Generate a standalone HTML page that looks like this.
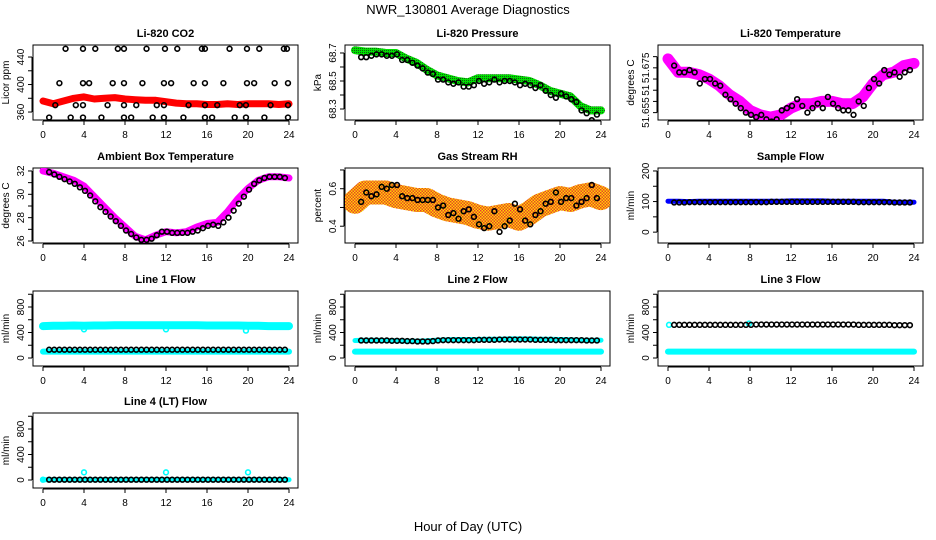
<!DOCTYPE html>
<html><head><meta charset="utf-8"><style>
body{margin:0;background:#fff;}
svg{display:block;font-family:"Liberation Sans",Arial,sans-serif;}
.ttl{font-size:11px;font-weight:bold;text-anchor:middle;}
.tk{font-size:10px;text-anchor:middle;}
</style></head><body>
<svg id="c" width="936" height="540" viewBox="0 0 936 540">
<defs>
<pattern id="chk" width="3" height="3" patternUnits="userSpaceOnUse"><rect width="3" height="3" fill="#ffd700"/><rect width="1.5" height="1.5" fill="#e8412a"/><rect x="1.5" y="1.5" width="1.5" height="1.5" fill="#e8412a"/></pattern>
<pattern id="grn" width="2" height="2" patternUnits="userSpaceOnUse"><rect width="2" height="2" fill="#00e000"/><rect width="1" height="1" fill="#106010"/></pattern>
</defs>
<text x="468" y="14" text-anchor="middle" font-size="13">NWR_130801  Average Diagnostics</text>
<text x="468" y="531" text-anchor="middle" font-size="13">Hour of Day (UTC)</text>
</svg>
<script>
const hours=[0,1,2,3,4,5,6,7,8,9,10,11,12,13,14,15,16,17,18,19,20,21,22,23,24];
const T=[0.6,1.1,1.6,2.1,2.6,3.1,3.6,4.1,4.6,5.1,5.6,6.1,6.6,7.1,7.6,8.1,8.6,9.1,9.6,10.1,10.6,11.1,11.6,12.1,12.6,13.1,13.6,14.1,14.6,15.1,15.6,16.1,16.6,17.1,17.6,18.1,18.6,19.1,19.6,20.1,20.6,21.1,21.6,22.1,22.6,23.1,23.6];
const xTicks=[0,4,8,12,16,20,24];
// CO2
const co2Band=[376,372,376,380,382,379,380,381,379,378,377,377,375,373,372,372,371,371,372,371,372,372,372,371,372];
const co2T=[2.2,3.9,5.1,7.3,7.9,10.1,11.9,13.1,15.5,15.8,18.2,19.9,21.1,23.5,23.8,1.6,3.9,4.5,6.8,7.9,9.7,11.8,12.5,14.7,15.8,17.6,19.9,20.6,22.6,23.9,1.2,3.2,3.9,6.3,7.9,9.1,11.1,11.8,14.2,15.8,17.0,19.2,19.8,22.2,23.9,0.6,2.7,3.9,5.7,7.9,8.6,10.7,11.8,13.7,15.8,16.5,18.7,19.8,21.6,23.9];
const co2V=[452,452,452,452,452,452,452,452,452,452,452,452,452,452,452,402,402,402,402,402,402,402,402,402,402,402,402,402,402,402,370,370,370,370,370,370,370,370,370,370,370,370,370,370,370,352,352,352,352,352,352,352,352,352,352,352,352,352,352,352];
// Pressure
const presBand=[68.72,68.71,68.71,68.70,68.70,68.66,68.63,68.58,68.54,68.52,68.50,68.49,68.52,68.52,68.52,68.52,68.51,68.50,68.47,68.43,68.41,68.39,68.32,68.29,68.29];
const presBlack=[68.67,68.67,68.68,68.69,68.69,68.68,68.68,68.69,68.65,68.65,68.63,68.61,68.59,68.56,68.55,68.51,68.51,68.49,68.48,68.49,68.46,68.46,68.47,68.50,68.48,68.49,68.51,68.49,68.50,68.50,68.49,68.47,68.48,68.47,68.45,68.47,68.43,68.40,68.38,68.41,68.39,68.37,68.35,68.29,68.27,68.22,68.26];
// Li-820 temperature
const tempBand=[51.679,51.673,51.673,51.672,51.670,51.667,51.663,51.660,51.656,51.654,51.653,51.654,51.657,51.659,51.659,51.660,51.660,51.659,51.659,51.662,51.668,51.672,51.673,51.676,51.677];
const tempBlack=[51.676,51.673,51.673,51.674,51.673,51.668,51.670,51.670,51.668,51.667,51.663,51.661,51.659,51.657,51.655,51.654,51.653,51.654,51.652,51.651,51.652,51.656,51.657,51.658,51.661,51.658,51.655,51.657,51.659,51.657,51.662,51.659,51.657,51.656,51.656,51.654,51.660,51.658,51.666,51.670,51.668,51.674,51.672,51.673,51.671,51.673,51.674];
// Ambient
const ambBand=[32,31.8,31.5,31.2,30.7,29.8,28.9,28.0,27.2,26.4,26.1,26.5,26.8,26.7,26.8,27.2,27.5,27.6,28.5,29.6,30.5,31.2,31.5,31.5,31.4];
const ambBlack=[31.9,31.7,31.5,31.3,31.1,30.9,30.6,30.3,29.9,29.4,28.9,28.5,28.1,27.7,27.3,26.9,26.6,26.3,26.1,26.1,26.2,26.5,26.8,26.8,26.7,26.7,26.7,26.7,26.8,26.9,27.1,27.3,27.4,27.3,27.6,28.0,28.6,29.2,29.8,30.4,30.9,31.2,31.4,31.5,31.5,31.5,31.4];
// RH
const rhBand=[0.53,0.58,0.58,0.58,0.56,0.55,0.54,0.54,0.51,0.49,0.48,0.47,0.45,0.44,0.45,0.46,0.44,0.47,0.51,0.53,0.55,0.54,0.56,0.57,0.55];
const rhBlack=[0.53,0.58,0.56,0.57,0.61,0.60,0.62,0.62,0.56,0.55,0.55,0.54,0.54,0.54,0.54,0.50,0.51,0.46,0.47,0.44,0.48,0.49,0.45,0.41,0.39,0.40,0.48,0.37,0.40,0.43,0.52,0.49,0.43,0.41,0.46,0.48,0.52,0.53,0.58,0.53,0.55,0.55,0.51,0.53,0.55,0.62,0.55];
// Sample flow
const sampBand=[101,101,100,101,101,101,101,101,101,101,101,101,102,102,102,102,101,101,101,101,101,101,98,98,98];
const sampBlack=[97,97,97,98,98,98,98,98,98,98,98,98,98,98,98,98,98,98,98,99,99,99,99,99,99,99,99,99,99,99,99,99,99,99,99,99,98,98,98,98,98,98,98,97,97,97,97];
// Line flows
const l1BandHi=[500,505,505,510,505,510,510,515,515,515,515,515,515,515,515,515,510,510,510,510,505,505,500,500,500];
const l1BandLo=[100,100,100,100,100,100,100,100,100,100,100,100,100,100,100,100,100,100,100,100,100,100,100,100,100];
const l1Black=[130,130,130,130,130,130,130,130,130,130,130,130,130,130,130,130,130,130,130,130,130,130,130,130,130,130,130,130,130,130,130,130,130,130,130,130,130,130,130,130,130,130,130,130,130,130,130];
const l2BandHi=[275,280,280,275,270,265,265,270,280,285,290,290,290,295,295,300,300,300,295,295,290,285,280,280,280];
const l2BandLo=[100,100,100,100,100,100,100,100,100,100,100,100,100,100,100,100,100,100,100,100,100,100,100,100,100];
const l2Black=[275,275,275,275,275,275,270,270,270,265,265,260,260,260,265,275,280,280,280,280,280,280,280,285,285,285,285,290,290,290,290,290,290,290,285,285,285,285,280,280,280,280,280,280,275,275,275];
const l3BandLo=[100,100,100,100,100,100,100,100,100,100,100,100,100,100,100,100,100,100,100,100,100,100,100,100,100];
const l3Black=[520,520,520,520,520,520,520,520,520,520,520,520,520,520,520,520,525,525,525,525,525,525,525,525,525,525,525,525,525,525,525,525,525,525,525,525,520,520,520,520,520,520,520,515,515,515,515];
const l3CyanT=[0.1,7.9];
const l3CyanV=[520,540];
const l4Band=[5,5,5,5,5,5,5,5,5,5,5,5,5,5,5,5,5,5,5,5,5,5,5,5,5];
const l4Black=[5,5,5,5,5,5,5,5,5,5,5,5,5,5,5,5,5,5,5,5,5,5,5,5,5,5,5,5,5,5,5,5,5,5,5,5,5,5,5,5,5,5,5,5,5,5,5];
const l4CyanT=[0,4,12,20];
const l4CyanV=[5,120,120,120];
const l1CyanT=[4,12,19.8];
const l1CyanV=[450,450,430];

const NS='http://www.w3.org/2000/svg';
const svg=document.getElementById('c');
const colL=[33,345,658], rowT=[45,168,291,413], W=265, H=75;
function el(tag,attrs,parent){const e=document.createElementNS(NS,tag);for(const k in attrs)e.setAttribute(k,attrs[k]);(parent||svg).appendChild(e);return e;}
function panel(c,r,title,ylab,vb,vt,ticks,labels,name){
  const L=colL[c],Tp=rowT[r],B=Tp+H;
  const g=el('g',{});
  
  
  const sx=h=>L+10+h*(W-19)/24;
  const sy=v=>B-(v-vb)/(vt-vb)*H;
  const t=el('text',{x:L+W/2,y:Tp-8,class:'ttl'},g);t.textContent=title;
  
  
  el('rect',{x:L,y:Tp,width:W,height:H,fill:'none',stroke:'#000','stroke-width':1},g);
  el('line',{x1:sx(0),x2:sx(24),y1:B+1,y2:B+1,stroke:'#000'},g);
  xTicks.forEach(h=>{el('line',{x1:sx(h),x2:sx(h),y1:B+1,y2:B+5,stroke:'#000'},g);
    const tx=el('text',{x:sx(h),y:B+18,class:'tk'},g);tx.textContent=h;
    
    });
  el('line',{x1:L-1,x2:L-1,y1:sy(ticks[0]),y2:sy(ticks[ticks.length-1]),stroke:'#000'},g);
  ticks.forEach(v=>el('line',{x1:L-1,x2:L-5,y1:sy(v),y2:sy(v),stroke:'#000'},g));
  labels.forEach(([v,s])=>{const y=sy(v);const tx=el('text',{x:L-9,y:y,class:'tk',transform:`rotate(-90 ${L-9} ${y})`},g);tx.textContent=s;
    
    });
  const yl=el('text',{x:L-24,y:Tp+H/2,class:'tk',transform:`rotate(-90 ${L-24} ${Tp+H/2})`},g);yl.textContent=ylab;
  
  
  const clipId='cl'+c+r;
  const cp=el('clipPath',{id:clipId},g);el('rect',{x:L,y:Tp,width:W,height:H},cp);
  const plot=el('g',{'clip-path':`url(#${clipId})`},g);
  return {sx,sy,g:plot,name};
}
function band(p,vals,stroke,w,nm){
  const d=vals.map((v,i)=>(i?'L':'M')+p.sx(hours[i]).toFixed(1)+','+p.sy(v).toFixed(1)).join('');
  const e=el('path',{d:d,fill:'none',stroke:stroke,'stroke-width':w,'stroke-linejoin':'round','stroke-linecap':'round'},p.g);
  
  
}
function pts(p,ts,vals,col,nm){
  vals.forEach((v,i)=>{const e=el('circle',{cx:p.sx(ts[i]),cy:p.sy(v),r:2.4,fill:'none',stroke:col,'stroke-width':1.6},p.g);
    
    });
}
const flowTicks=[0,200,400,600,800,1000], flowLab=[[0,'0'],[400,'400'],[800,'800']];
let p;
p=panel(0,0,'Li-820 CO2','Licor ppm',348.4,457.5,[360,380,400,420,440],[[360,'360'],[400,'400'],[440,'440']],'co2');
band(p,co2Band,'#f00',7,'co2-band');pts(p,co2T,co2V,'#000','co2-point');
p=panel(1,0,'Li-820 Pressure','kPa',68.2214,68.757,[68.3,68.4,68.5,68.6,68.7],[[68.3,'68.3'],[68.5,'68.5'],[68.7,'68.7']],'pressure');
band(p,presBand,'url(#grn)',8,'pressure-band');pts(p,T,presBlack,'#000','pressure-point');
p=panel(2,0,'Li-820 Temperature','degrees C',51.6517,51.6852,[51.655,51.66,51.665,51.67,51.675,51.68],[[51.655,'51.655'],[51.665,'51'],[51.675,'51.675']],'li820-temp');
band(p,tempBand,'#ff00ff',11,'temp-band');pts(p,T,tempBlack,'#000','temp-point');
p=panel(0,1,'Ambient Box Temperature','degrees C',25.83,32.254,[26,27,28,29,30,31,32],[[26,'26'],[28,'28'],[30,'30'],[32,'32']],'ambient');
band(p,ambBand,'#ff00ff',7,'ambient-band');pts(p,T,ambBlack,'#000','ambient-point');
p=panel(1,1,'Gas Stream RH','percent',0.3105,0.7105,[0.4,0.5,0.6,0.7],[[0.4,'0.4'],[0.6,'0.6']],'rh');
band(p,rhBand,'url(#chk)',24,'rh-band');pts(p,T,rhBlack,'#000','rh-point');
p=panel(2,1,'Sample Flow','ml/min',-35.5,209.7,[0,50,100,150,200],[[0,'0'],[100,'100'],[200,'200']],'sample-flow');
band(p,sampBand,'#0000ff',5,'sample-band');pts(p,T,sampBlack,'#000','sample-point');
p=panel(0,2,'Line 1 Flow','ml/min',-125.5,1051,flowTicks,flowLab,'line1');
band(p,l1BandHi,'#00ffff',8,'line1-band-high');band(p,l1BandLo,'#00ffff',6,'line1-band-low');pts(p,l1CyanT,l1CyanV,'#00ffff','line1-cyan-point');pts(p,T,l1Black,'#000','line1-point');
p=panel(1,2,'Line 2 Flow','ml/min',-125.5,1051,flowTicks,flowLab,'line2');
band(p,l2BandHi,'#00ffff',5,'line2-band-high');band(p,l2BandLo,'#00ffff',6,'line2-band-low');pts(p,T,l2Black,'#000','line2-point');
p=panel(2,2,'Line 3 Flow','ml/min',-125.5,1051,flowTicks,flowLab,'line3');
band(p,l3BandLo,'#00ffff',6,'line3-band-low');pts(p,l3CyanT,l3CyanV,'#00ffff','line3-cyan-point');pts(p,T,l3Black,'#000','line3-point');
p=panel(0,3,'Line 4 (LT) Flow','ml/min',-125.5,1051,flowTicks,flowLab,'line4');
band(p,l4Band,'#00ffff',5,'line4-band');pts(p,l4CyanT,l4CyanV,'#00ffff','line4-cyan-point');pts(p,T,l4Black,'#000','line4-point');
</script>
</body></html>
